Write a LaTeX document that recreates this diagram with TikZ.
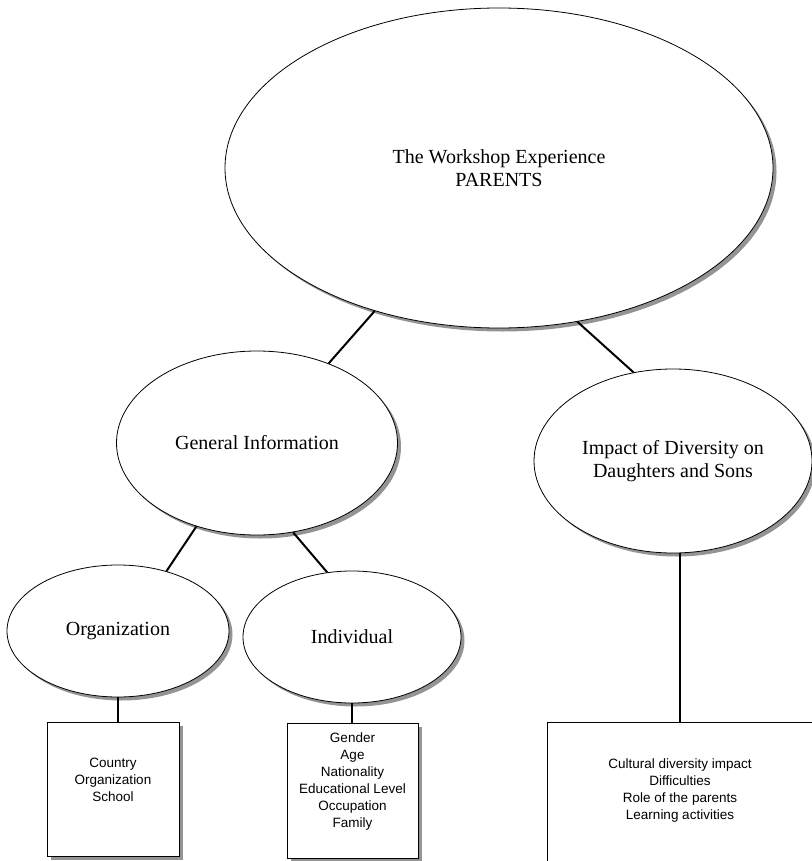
\documentclass[tikz,border=0pt]{standalone}
\usepackage{fontspec}
\setmainfont{Liberation Serif}
\newfontfamily\boxfont{Liberation Sans}
\usetikzlibrary{shapes.geometric,shadows}
\begin{document}
\begin{tikzpicture}[x=1pt,y=-1pt,
  castshadow/.style={drop shadow={shadow xshift=3.5pt,shadow yshift=-3.5pt,fill=black!42,opacity=1}},
  topic/.style={ellipse, draw=black, line width=0.8pt, fill=white, castshadow,
    inner sep=0pt, align=center, font=\fontsize{20}{23}\selectfont},
  listbox/.style={rectangle, draw=black, line width=0.9pt, fill=white, castshadow, inner sep=0pt},
  listtext/.style={align=center, inner sep=0pt, font=\boxfont\fontsize{13.5}{17}\selectfont},
  link/.style={draw=black, line width=2pt}]
\useasboundingbox (0,0) rectangle (811,861);
\fill[white] (0,0) rectangle (811,861);

% ellipses
\node[topic, minimum width=548pt, minimum height=320pt] (top) at (499,168)
  {The Workshop Experience\\PARENTS};
\node[topic, minimum width=281pt, minimum height=184pt] (gen) at (257,443)
  {General Information};
\node[topic, minimum width=278pt, minimum height=184pt] (imp) at (673,461)
  {Impact of Diversity on\\Daughters and Sons};
\node[topic, minimum width=222pt, minimum height=132pt] (org) at (118,631)
  {Organization};
\node[topic, minimum width=218pt, minimum height=132pt] (ind) at (352,637)
  {Individual};

% boxes with their lists
\node[listbox, minimum width=132pt, minimum height=134pt] (ctry) at (113,789) {};
\node[listtext] (ctrytext) at (113,780) {Country\\Organization\\School};
\node[listbox, minimum width=131pt, minimum height=135pt] (gend) at (352.5,790.5) {};
\node[listtext] (gendtext) at (352.5,781.5)
  {Gender\\Age\\Nationality\\Educational Level\\Occupation\\Family};
\node[listbox, minimum width=266pt, minimum height=156pt] (cult) at (680,800) {};
\node[listtext] (culttext) at (680,790.5)
  {Cultural diversity impact\\Difficulties\\Role of the parents\\Learning activities};

% connectors
\draw[link] (top.-131.2) -- (gen.48.4);
\draw[link] (top.-63.7) -- (imp.114.2);
\draw[link] (gen.-126.4) -- (org.51.3);
\draw[link] (gen.-68.2) -- (ind.111);
\draw[link] (org.south) -- (org.south |- ctry.north);
\draw[link] (ind.south) -- (ind.south |- gend.north);
\draw[link] (cult.north) -- (cult.north |- imp.south);
\end{tikzpicture}
\end{document}
